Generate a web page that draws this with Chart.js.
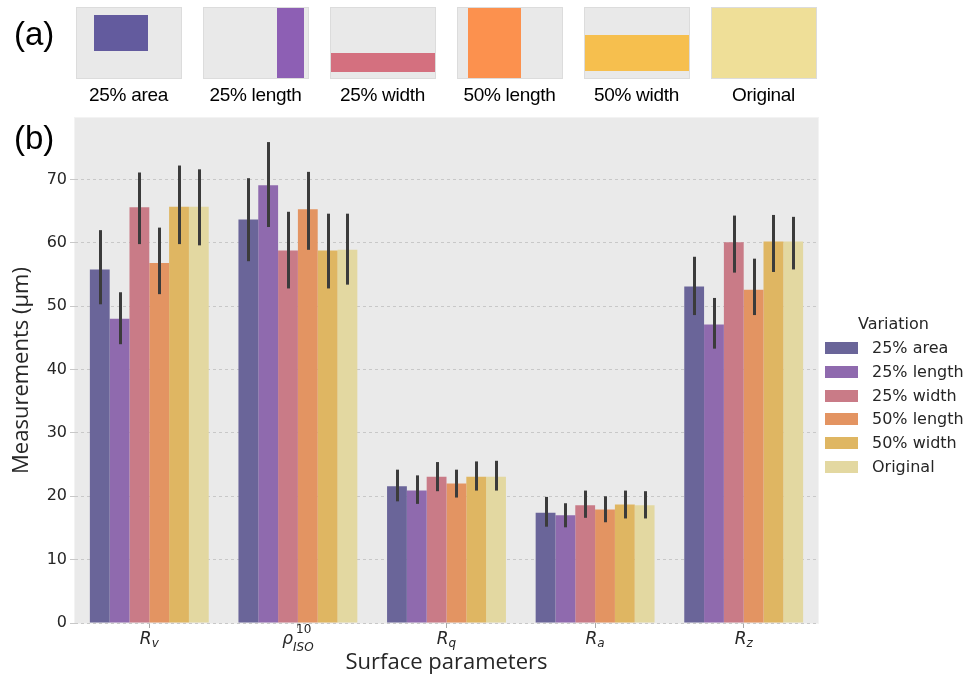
<!DOCTYPE html>
<html>
<head>
<meta charset="utf-8">
<title>Surface parameters by variation</title>
<script src="https://cdn.jsdelivr.net/npm/chart.js@4.4.1/dist/chart.umd.min.js"></script>
<style>
  body { margin: 0; background: #fff; width: 971px; height: 681px; position: relative; overflow: hidden; font-family: "Liberation Sans", Arial, sans-serif; }
  #chart { position: absolute; left: 0; top: 0; }
  .panel-label { position: absolute; font-size: 33px; color: #000; line-height: 1; }
  .shape-box { position: absolute; top: 7px; width: 104px; height: 70px; background: #e9e9e9; border: 1px solid #dcdcdc; overflow: hidden; }
  .shape-box div { position: absolute; }
  .shape-name { position: absolute; top: 84px; width: 127px; text-align: center; font-size: 19px; color: #000; letter-spacing: -0.3px; }
  #legend { position: absolute; left: 825px; top: 314px; font-family: "DejaVu Sans", sans-serif; font-size: 16px; color: #262626; }
  #legend .title { position: absolute; left: 33px; top: 0; white-space: nowrap; }
  #legend .row { position: absolute; left: 0; white-space: nowrap; height: 20px; }
  #legend .patch { position: absolute; left: 0; top: 4px; width: 33px; height: 12px; }
  #legend .name { position: absolute; left: 47px; top: 0; }
</style>
</head>
<body>
<canvas id="chart" width="971" height="681"></canvas>

<!-- panel (a): the cropped shapes -->
<div class="panel-label" style="left:14px; top:17px;">(a)</div>
<div class="shape-box" style="left:76px;"><div style="left:17px; top:7px; width:54px; height:36px; background:#635b9e;"></div></div>
<div class="shape-box" style="left:203px;"><div style="left:73px; top:0; width:27px; height:70px; background:#8d5fb4;"></div></div>
<div class="shape-box" style="left:330px;"><div style="left:0; top:45px; width:104px; height:19px; background:#d4707f;"></div></div>
<div class="shape-box" style="left:457px;"><div style="left:10px; top:0; width:53px; height:70px; background:#fc914e;"></div></div>
<div class="shape-box" style="left:584px;"><div style="left:0; top:27px; width:104px; height:36px; background:#f6bf4e;"></div></div>
<div class="shape-box" style="left:711px;"><div style="left:0; top:0; width:104px; height:70px; background:#efdf98;"></div></div>
<div class="shape-name" style="left:65px;">25% area</div>
<div class="shape-name" style="left:192px;">25% length</div>
<div class="shape-name" style="left:319px;">25% width</div>
<div class="shape-name" style="left:446px;">50% length</div>
<div class="shape-name" style="left:573px;">50% width</div>
<div class="shape-name" style="left:700px;">Original</div>

<div class="panel-label" style="left:14px; top:121px;">(b)</div>
<div id="legend"></div>

<script>
// categories: base_sub^sup
const categories = ['R_v', 'ρ_ISO^10', 'R_q', 'R_a', 'R_z'];
const variations = ['25% area', '25% length', '25% width', '50% length', '50% width', 'Original'];
const yTicks = [0, 10, 20, 30, 40, 50, 60, 70];

// mean values (µm)
const area25   = [55.8, 63.7, 21.6, 17.4, 53.1];
const length25 = [48.0, 69.1, 20.9, 17.0, 47.1];
const width25  = [65.6, 58.8, 23.1, 18.6, 60.1];
const length50 = [56.8, 65.3, 22.0, 17.9, 52.6];
const width50  = [65.7, 58.8, 23.1, 18.7, 60.2];
const original = [65.7, 58.9, 23.1, 18.6, 60.2];

// error bar ends
const area25Lo   = [50.3, 57.1, 19.2, 15.2, 48.6];
const area25Hi   = [62.0, 70.2, 24.2, 19.9, 57.8];
const length25Lo = [44.0, 62.5, 18.8, 15.1, 43.3];
const length25Hi = [52.2, 75.9, 23.3, 18.9, 51.3];
const width25Lo  = [59.8, 52.8, 20.8, 16.6, 55.3];
const width25Hi  = [71.1, 64.9, 25.4, 20.9, 64.3];
const length50Lo = [51.9, 58.9, 19.8, 15.9, 48.6];
const length50Hi = [62.4, 71.2, 24.2, 20.0, 57.5];
const width50Lo  = [59.8, 52.8, 20.9, 16.5, 55.4];
const width50Hi  = [72.2, 64.6, 25.5, 20.9, 64.4];
const originalLo = [59.6, 53.4, 20.9, 16.5, 55.8];
const originalHi = [71.6, 64.6, 25.6, 20.8, 64.1];

const barColors = ['#6a6599', '#8f6aae', '#c97b87', '#e39462', '#dfb662', '#e3d8a1'];

const series = [area25, length25, width25, length50, width50, original];
const lows = [area25Lo, length25Lo, width25Lo, length50Lo, width50Lo, originalLo];
const highs = [area25Hi, length25Hi, width25Hi, length50Hi, width50Hi, originalHi];

// grey plot background
const plotBackground = {
    id: 'plotBackground',
    beforeDraw(chart) {
        const { ctx, chartArea: a } = chart;
        ctx.save();
        ctx.fillStyle = '#eaeaea';
        ctx.fillRect(a.left, a.top, a.width, a.height);
        ctx.strokeStyle = '#f3f3f3';
        ctx.lineWidth = 1;
        ctx.strokeRect(a.left - 0.5, a.top - 0.5, a.width + 1, a.height + 1);
        ctx.restore();
    }
};

// black error bars on top of each bar
const errorBars = {
    id: 'errorBars',
    afterDatasetsDraw(chart) {
        const { ctx } = chart;
        const y = chart.scales.y;
        ctx.save();
        ctx.strokeStyle = '#3b3b3b';
        ctx.lineWidth = 3;
        chart.data.datasets.forEach((ds, i) => {
            chart.getDatasetMeta(i).data.forEach((bar, j) => {
                const x = Math.round(bar.x) + 0.5;
                ctx.beginPath();
                ctx.moveTo(x, y.getPixelForValue(lows[i][j]));
                ctx.lineTo(x, y.getPixelForValue(highs[i][j]));
                ctx.stroke();
            });
        });
        ctx.restore();
    }
};

// italic tick labels with sub/superscripts
const mathTicks = {
    id: 'mathTicks',
    afterDraw(chart) {
        const { ctx } = chart;
        const xs = chart.scales.x;
        const big = 'italic 17px "DejaVu Sans"';
        const small = 'italic 12px "DejaVu Sans"';
        const smallUp = '12px "DejaVu Sans"';
        ctx.save();
        ctx.fillStyle = '#262626';
        ctx.textBaseline = 'alphabetic';
        ctx.textAlign = 'left';
        categories.forEach((label, i) => {
            const m = label.match(/^([^_^]+)(?:_([^_^]+))?(?:\^(.+))?$/);
            const base = m[1], sub = m[2] || '', sup = m[3] || '';
            ctx.font = big;
            const wb = ctx.measureText(base).width;
            ctx.font = small;
            const wsub = ctx.measureText(sub).width;
            ctx.font = smallUp;
            const wsup = ctx.measureText(sup).width;
            const ws = Math.max(wsub, wsup);
            const cx = xs.getPixelForTick(i);
            const x0 = cx - (wb + ws) / 2;
            const yb = 644;
            ctx.font = big;
            ctx.fillText(base, x0, yb);
            ctx.font = small;
            if (sub) ctx.fillText(sub, x0 + wb, sup ? yb + 7 : yb + 3);
            ctx.font = smallUp;
            if (sup) ctx.fillText(sup, x0 + wb + 3, yb - 11);
        });
        ctx.restore();
    }
};

const ctx = document.getElementById('chart').getContext('2d');
const chart = new Chart(ctx, {
    type: 'bar',
    data: {
        labels: categories,
        datasets: variations.map((name, i) => ({
            label: name,
            data: series[i],
            backgroundColor: barColors[i],
            borderWidth: 0,
            barPercentage: 1.0,
            categoryPercentage: 0.8
        }))
    },
    options: {
        responsive: false,
        animation: false,
        devicePixelRatio: 1,
        layout: { padding: { top: 118, right: 153, left: 0, bottom: 0 } },
        plugins: {
            legend: { display: false },
            tooltip: { enabled: false }
        },
        scales: {
            x: {
                afterFit(scale) { scale.height = 58; },
                grid: { display: true, drawOnChartArea: false, drawTicks: true, tickLength: 5, color: '#a8a8a8', offset: false },
                border: { display: false },
                ticks: { color: 'rgba(0,0,0,0)', font: { size: 10 } },
                title: {
                    display: true,
                    text: 'Surface parameters',
                    font: { family: 'Open Sans', size: 22 },
                    color: '#262626',
                    padding: { top: 0, bottom: 5 }
                }
            },
            y: {
                min: 0,
                max: 79.7,
                afterFit(scale) { scale.width = 75; },
                afterBuildTicks(scale) { scale.ticks = yTicks.map(v => ({ value: v })); },
                grid: { color: '#c8c8c8', tickLength: 5, lineWidth: 1 },
                border: { display: false, dash: [3, 3] },
                ticks: {
                    font: { family: 'DejaVu Sans', size: 16 },
                    color: '#262626',
                    padding: 3
                },
                title: {
                    display: true,
                    text: 'Measurements (μm)',
                    font: { family: 'Open Sans', size: 22 },
                    color: '#262626',
                    padding: { top: 9, bottom: 0 }
                }
            }
        }
    },
    plugins: [plotBackground, errorBars, mathTicks]
});

// legend to the right of the plot
const legend = document.getElementById('legend');
const title = document.createElement('div');
title.className = 'title';
title.textContent = 'Variation';
legend.appendChild(title);
variations.forEach((name, i) => {
    const row = document.createElement('div');
    row.className = 'row';
    row.style.top = (24 + i * 23.8) + 'px';
    row.innerHTML = '<div class="patch" style="background:' + barColors[i] + '"></div><div class="name">' + name + '</div>';
    legend.appendChild(row);
});
</script>
</body>
</html>
